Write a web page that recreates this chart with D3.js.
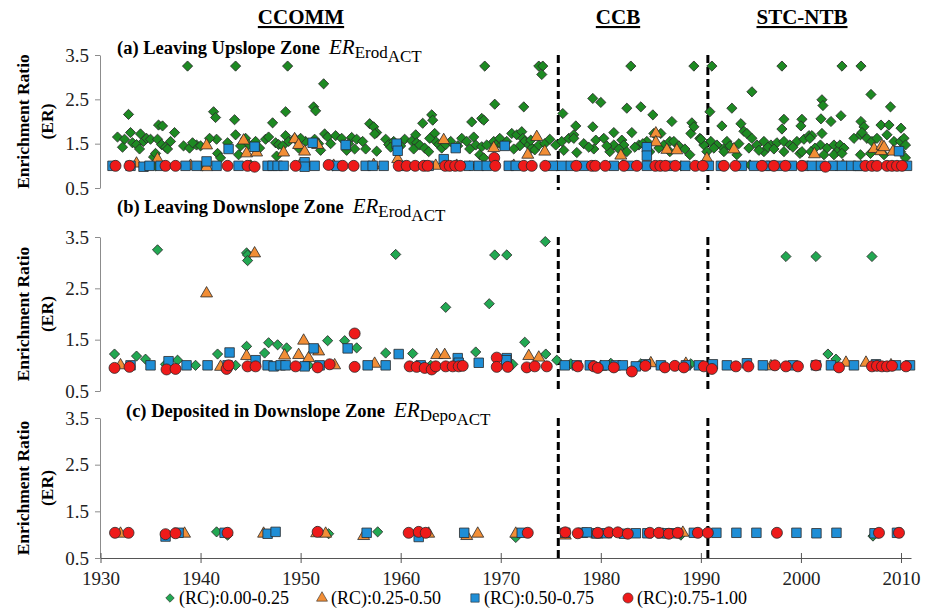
<!DOCTYPE html>
<html lang="en">
<head>
<meta charset="UTF-8">
<title>Enrichment Ratio by RC class</title>
<script src="https://d3js.org/d3.v7.min.js"></script>
<style>
  body { margin: 0; background: #fff; }
  .axis path, .axis line { stroke: #8c8c8c; }
  .xaxis path, .xaxis line { stroke: #555; }
</style>
</head>
<body>
<div id="chart"></div>
<script>
// ---- data: [year, ER] ----
const classes = ["(RC):0.00-0.25", "(RC):0.25-0.50", "(RC):0.50-0.75", "(RC):0.75-1.00"];
const yTicks = [0.5, 1.5, 2.5, 3.5];
const xTicks = [1930, 1940, 1950, 1960, 1970, 1980, 1990, 2000, 2010];
const zoneNames = ["CCOMM", "CCB", "STC-NTB"];
const zoneBreaks = [1975.75, 1990.7];

const upGreen = [[1931.7,1.65],[1932.4,1.6],[1932.8,2.16],[1933.0,1.75],[1933.2,1.52],[1933.6,1.48],[1934.0,1.72],[1934.3,1.55],[1934.6,1.62],[1935.0,1.6],[1935.3,1.2],[1935.5,1.28],[1935.7,1.6],[1935.8,1.92],[1936.2,1.9],[1936.1,1.48],[1936.5,1.42],[1936.7,1.38],[1937.4,1.75],[1938.7,3.25],[1938.3,1.45],[1938.9,1.4],[1939.6,1.47],[1940.0,1.45],[1941.3,2.22],[1941.5,2.09],[1941.6,1.6],[1941.7,1.28],[1942.0,1.18],[1942.7,1.52],[1943.4,2.04],[1943.5,3.25],[1943.5,1.7],[1943.8,1.25],[1944.5,1.62],[1944.8,1.48],[1946.5,1.6],[1946.8,1.65],[1947.2,1.97],[1947.5,1.52],[1947.8,1.48],[1947.6,1.22],[1948.5,2.22],[1948.7,3.25],[1948.5,1.68],[1948.8,1.55],[1948.2,1.45],[1949.4,1.62],[1949.8,1.4],[1951.3,2.33],[1951.5,2.24],[1951.4,1.6],[1951.8,1.5],[1952.3,2.85],[1952.4,1.72],[1952.7,1.65],[1953.5,1.68],[1952.0,1.35],
  [1954.1,1.62],[1955.1,1.64],[1955.6,1.6],[1955.4,1.38],[1956.5,1.38],[1956.9,1.95],[1957.3,1.88],[1957.6,1.75],[1957.4,1.72],[1957.6,1.33],[1958.5,1.6],[1958.8,1.48],[1960.4,1.6],[1961.1,1.56],[1961.5,1.7],[1961.6,1.52],[1961.3,1.38],[1961.9,1.47],[1962.2,1.96],[1962.4,1.4],[1962.8,1.32],[1963.1,2.15],[1963.2,2.03],[1963.4,1.73],[1963.5,1.55],[1963.8,1.48],[1964.1,1.4],[1964.5,1.48],[1966.1,1.62],[1966.6,1.55],[1967.1,1.99],[1967.3,1.65],[1967.5,1.47],[1968.1,2.07],[1968.3,2.03],[1968.1,1.43],[1968.6,1.47],[1967.9,1.25],[1968.3,1.18],[1968.4,3.25],[1969.3,1.55],[1969.4,2.39],[1969.5,1.47],[1970.1,1.47],[1971.1,1.73],[1971.6,1.7],[1972.1,1.77],[1972.3,2.33],[1972.2,1.62],[1972.4,1.55],[1972.8,1.47],[1973.1,1.4],[1973.4,1.36],[1973.8,3.25],[1974.2,3.25],[1974.1,3.06],[1973.8,1.47],[1974.4,1.5],[1975.5,1.47],[1976.1,1.55],[1976.2,2.18],[1976.3,1.35],[1976.8,1.62],[1977.3,1.7],
  [1977.5,1.9],[1977.3,1.62],[1978.3,1.5],[1979.2,2.52],[1979.2,1.88],[1979.5,1.58],[1980.0,2.43],[1980.3,1.62],[1981.3,1.75],[1981.3,1.47],[1982.1,1.58],[1982.3,1.47],[1982.6,2.3],[1983.0,3.25],[1983.1,1.75],[1983.8,1.47],[1984.0,2.33],[1984.6,1.55],[1985.2,2.15],[1985.3,1.73],[1986.0,1.73],[1986.3,1.47],[1986.9,1.55],[1987.1,2.0],[1987.3,1.55],[1989.0,1.73],[1989.1,1.97],[1989.3,1.88],[1989.3,3.25],[1989.9,1.62],[1990.3,1.47],[1990.9,2.22],[1991.0,1.55],[1991.1,3.25],[1991.6,1.47],[1992.1,1.9],[1992.3,1.39],[1992.6,1.55],[1993.1,2.3],[1994.0,1.95],[1994.3,1.78],[1994.6,1.73],[1995.1,2.67],[1995.1,1.62],[1995.6,1.47],[1996.3,1.55],[1997.0,1.47],[1997.6,1.52],[1998.1,3.25],[1998.3,2.05],[1998.1,1.83],[1998.3,1.55],[1998.9,1.47],[1999.6,1.55],[2000.1,2.05],[2000.0,1.9],[2000.3,1.6],[2000.8,1.68],
  [1977.6,1.3],[1979.3,1.38],[1980.9,1.32],[1982.6,1.32],[1984.9,1.32],[1986.9,1.32],[1988.9,1.25],[1990.6,1.32],[1992.3,1.32],[1993.6,1.25],[1996.3,1.32],[1998.3,1.32],[1999.9,1.28],
  [1978.8,1.42],[1980.6,1.45],[1981.8,1.38],[1983.4,1.42],[1984.2,1.5],[1985.8,1.4],[1987.8,1.45],[1988.4,1.38],[1990.0,1.6],[1991.3,1.4],[1992.9,1.45],[1993.8,1.5],[1994.8,1.4],[1995.8,1.35],[1996.7,1.42],[1997.3,1.38],[1999.2,1.42],
  [2001.1,1.68],[2002.1,1.73],[2002.1,2.49],[2002.2,2.36],[2002.0,2.06],[2003.0,2.0],[2004.0,2.13],[2004.1,3.25],[2006.0,3.25],[2007.0,2.61],[2008.95,2.33],[2006.0,2.0],[2006.3,1.88],[2008.0,1.92],[2008.8,1.92],[2010.0,1.85],[2000.9,1.62],[2001.95,1.47],[2001.4,1.4],[2002.6,1.4],[2003.3,1.47],[2003.9,1.47],[2003.6,1.32],[2004.3,1.4],[2005.3,1.62],[2005.95,1.7],[2006.1,1.75],[2006.6,1.62],[2007.1,1.55],[2007.6,1.62],[2008.6,1.7],[2009.3,1.55],[2009.95,1.55],[2010.3,1.62],[2010.45,1.47],[2000.1,1.32],[2001.0,1.32],[2002.3,1.25],[2003.3,1.25],[2004.1,1.28],[2005.95,1.25],[2006.95,1.28],[2008.3,1.25],[2009.95,1.32],[2010.45,1.18],
  [1933.9,1.38],[1937.0,1.55],[1939.2,1.52],[1944.0,1.45],[1945.5,1.55],[1950.5,1.55],[1953.0,1.5],[1954.8,1.5],[1956.2,1.55],[1959.3,1.55],[1960.0,1.45],[1965.0,1.55],[1966.9,1.38],[1970.6,1.55],[1971.9,1.45],[1974.9,1.6],
  [1932.2,1.42],[1940.9,1.62],[1945.9,1.4],[1950.0,1.62],[1954.6,1.35],[1959.0,1.42],[1962.9,1.62],[1965.7,1.45],[1969.9,1.62],[1971.3,1.38],[1973.0,1.58],
  [1935.5,1.0],[1940.2,1.0],[1945.0,1.02],[1953.2,1.0],[1960.0,1.02],[1966.9,1.0],[1975.6,1.0],[1982.2,1.02],[1988.0,1.0],[1994.9,1.02],[2003.5,1.0]];
const upOrange = [[1933.6,1.05],[1935.7,1.15],[1939.0,1.0],[1940.6,1.46],[1940.6,0.97],[1944.3,1.57],[1944.6,1.28],[1945.6,1.3],[1948.3,1.3],[1949.4,1.6],[1949.8,1.47],[1950.4,1.32],[1951.7,1.47],[1953.3,1.0],[1957.3,1.02],[1959.7,1.15],[1963.5,1.0],[1964.3,1.58],[1969.3,1.4],[1972.7,1.25],[1973.6,1.65],[1974.4,1.32],[1982.0,1.23],[1985.5,1.73],[1985.5,1.53],[1986.6,1.36],[1987.6,1.35],[1990.6,1.16],[1993.3,1.37],[2001.35,1.26],[2004.2,1.0],[2006.0,0.97],[2007.3,1.38],[2008.0,1.33],[2008.1,1.45],[2008.3,1.42],[2009.2,1.32],[1949.9,1.0],[1965.6,1.0],[1971.3,1.0]];
const upBlue = [[1931.2,1.0],[1933.0,1.0],[1934.3,0.98],[1936.0,1.0],[1938.5,1.0],[1940.6,1.1],[1942.8,1.38],[1943.8,1.0],[1945.4,1.43],[1946.7,1.0],[1947.2,1.0],[1947.7,1.0],[1948.3,1.0],[1950.4,1.08],[1950.4,0.98],[1951.2,1.52],[1951.4,1.0],[1954.5,1.47],[1956.5,1.0],[1958.3,1.0],[1959.6,1.5],[1959.7,1.34],[1962.8,1.0],[1964.3,1.15],[1965.5,1.4],[1967.8,1.0],[1970.4,1.45],[1970.8,1.0],[1971.5,1.0],[1976.1,1.0],[1978.3,1.0],[1981.3,1.0],[1984.6,1.42],[1984.6,1.23],[1984.6,1.0],[1988.45,1.0],[1990.8,1.0],[1994.1,1.0],[1995.3,1.0],[1997.0,1.0],[1999.1,1.0],[2000.3,1.0],[2001.1,1.0],[2003.2,1.0],[2005.0,1.0],[2009.8,1.33],[2010.6,1.0],
  [1934.9,1.0],[1939.6,1.0],[1941.6,1.0],[1953.6,1.0],[1957.2,1.0],[1960.0,1.0],[1966.8,1.0],[1968.6,1.0],[1975.2,1.0],[1977.0,1.0],[1982.8,1.0],[1986.8,1.0],[1992.0,1.0],[1996.4,1.0],[1998.0,1.0],[2002.0,1.0],[2004.1,1.0],[2005.7,1.0]];
const upRed = [[1931.5,1.0],[1932.9,1.0],[1936.5,1.0],[1937.5,1.0],[1942.7,1.0],[1944.7,1.0],[1945.4,0.98],[1949.5,1.0],[1952.8,1.02],[1954.2,1.0],[1955.3,1.0],[1959.8,1.0],[1960.6,1.0],[1961.45,1.0],[1962.3,1.0],[1962.7,1.0],[1964.45,1.0],[1964.9,1.0],[1965.45,1.0],[1965.95,1.0],[1969.35,1.18],[1969.45,1.0],[1972.3,1.0],[1973.1,1.0],[1974.45,1.0],[1977.55,1.0],[1979.1,1.0],[1979.45,1.0],[1980.45,1.0],[1982.3,1.0],[1983.6,1.0],[1985.45,1.0],[1985.95,1.0],[1986.45,1.0],[1987.45,1.0],[1989.45,1.0],[1990.2,1.0],[1992.3,1.0],[1993.45,1.0],[1996.1,1.0],[1997.3,1.0],[1998.45,1.0],[2000.1,1.0],[2002.45,0.98],[2006.45,1.0],[2007.1,1.0],[2007.6,1.0],[2008.6,1.0],[2009.1,1.0],[2009.6,1.0],[2010.1,1.0]];

const downGreen = [[1931.4,1.22],[1933.6,1.18],[1934.5,1.12],[1935.7,3.25],[1937.7,1.1],[1939.5,1.0],[1941.7,1.22],[1944.6,3.19],[1944.7,3.15],[1944.7,3.04],[1944.6,1.37],[1946.4,1.24],[1946.8,1.44],[1947.7,1.4],[1948.6,1.34],[1952.7,1.48],[1954.4,1.48],[1955.6,1.34],[1958.5,1.24],[1959.5,3.16],[1961.2,1.23],[1964.5,2.13],[1967.5,1.26],[1968.85,2.2],[1969.4,3.15],[1970.6,3.15],[1972.4,1.45],[1974.45,3.41],[1974.5,1.22],[1975.6,1.1],[1977.0,1.03],[1981.0,1.04],[1984.0,1.03],[1989.0,1.03],[1998.5,3.12],[2001.5,3.12],[2002.7,1.22],[2003.5,1.12],[2007.1,3.12],[1936.5,1.02],[1943.5,1.0],[1950.8,1.0],[1963.0,1.0],[1971.2,1.02]];
const downOrange = [[1932.0,1.0],[1940.6,2.4],[1944.6,1.18],[1945.4,3.18],[1948.4,1.19],[1949.8,1.2],[1950.3,1.48],[1950.8,1.14],[1951.8,1.27],[1953.4,1.0],[1957.4,1.03],[1963.6,1.2],[1964.4,1.2],[1972.8,1.18],[1973.8,1.15],[1965.5,0.97],[1942.0,0.97],[1980.0,0.97],[1985.0,1.04],[1988.5,1.03],[1997.0,0.98],[2004.5,1.05],[2006.5,1.05],[2009.0,1.0]];
const downBlue = [[1933.0,1.0],[1935.0,1.0],[1936.8,1.08],[1938.6,1.0],[1940.7,1.0],[1942.9,1.25],[1942.7,1.0],[1945.5,1.1],[1946.7,1.0],[1947.3,0.98],[1948.0,1.0],[1948.5,1.0],[1950.4,0.98],[1951.3,1.33],[1951.9,1.0],[1954.7,1.33],[1956.7,1.0],[1958.5,1.0],[1959.8,1.22],[1962.0,1.0],[1965.7,1.14],[1965.8,1.05],[1967.8,1.05],[1970.6,1.14],[1970.55,1.1],[1976.4,1.0],[1978.9,1.0],[1981.5,1.0],[1983.5,0.98],[1984.5,1.02],[1988.5,1.0],[1991.2,1.02],[1994.6,1.04],[1999.2,1.0],[2001.5,1.0],[2005.3,1.0],[2007.5,1.02],[2010.9,1.0],
  [1977.6,1.0],[1980.4,1.0],[1982.2,1.0],[1986.0,1.0],[1989.8,1.0],[1992.6,1.0],[1996.2,1.0],[2003.0,1.0],[2009.5,1.0]];
const downRed = [[1931.4,0.95],[1932.9,0.97],[1936.6,0.92],[1937.5,0.93],[1942.6,0.93],[1942.8,1.0],[1944.7,0.98],[1945.5,0.98],[1949.5,0.98],[1951.7,0.96],[1952.9,1.02],[1955.4,1.62],[1955.4,0.97],[1960.9,0.98],[1961.6,0.97],[1962.4,0.95],[1963.1,0.92],[1963.5,0.98],[1964.5,0.98],[1965.2,0.98],[1965.8,0.98],[1966.2,0.99],[1969.6,1.15],[1969.6,0.97],[1970.7,0.97],[1972.6,0.96],[1973.4,0.98],[1974.6,0.98],[1977.7,0.98],[1979.3,0.98],[1979.7,0.95],[1981.3,0.96],[1983.1,0.88],[1984.45,0.99],[1986.4,0.96],[1987.4,0.99],[1988.3,0.96],[1990.3,0.98],[1991.1,0.93],[1993.5,0.98],[1994.75,0.98],[1997.4,1.0],[1998.5,0.98],[1999.7,0.98],[2001.5,1.0],[2003.8,0.96],[2007.1,0.98],[2007.6,0.99],[2008.1,0.98],[2008.6,0.98],[2009.1,0.99],[2010.5,0.98]];

const depoGreen = [[1941.6,1.06],[1942.7,0.99],[1952.8,1.02],[1957.7,1.06],[1971.5,0.94],[1988.0,0.99],[2007.2,0.97]];
const depoOrange = [[1932.0,1.02],[1938.4,1.02],[1946.3,1.02],[1951.6,1.03],[1952.5,1.02],[1956.3,0.97],[1962.8,1.02],[1966.6,0.97],[1967.7,1.02],[1971.5,1.02],[1976.45,0.98],[1979.6,1.0],[1986.2,1.0],[1988.2,1.04]];
const depoBlue = [[1936.5,0.96],[1937.8,1.04],[1942.4,1.04],[1946.7,1.02],[1947.5,1.06],[1956.6,1.04],[1961.8,0.95],[1966.35,1.04],[1972.1,1.04],[1976.45,1.04],[1978.2,1.04],[1978.6,1.05],[1979.6,1.03],[1980.6,1.03],[1982.3,1.02],[1983.5,1.03],[1984.65,1.03],[1986.65,1.03],[1987.6,1.03],[1989.3,1.04],[1991.55,1.04],[1993.55,1.04],[1995.55,1.04],[1999.55,1.04],[2001.55,1.03],[2003.55,1.04],[2007.35,1.03],[2009.6,1.04]];
const depoRed = [[1931.45,1.04],[1932.8,1.04],[1936.5,1.01],[1937.5,1.03],[1942.7,1.04],[1951.7,1.06],[1960.8,1.04],[1961.8,1.06],[1962.5,1.04],[1972.7,1.04],[1976.45,1.05],[1977.7,1.03],[1979.7,1.04],[1980.8,1.05],[1981.7,1.05],[1982.7,1.02],[1984.9,1.04],[1985.8,1.04],[1986.8,1.02],[1987.7,1.04],[1989.7,1.04],[1990.7,1.04],[1997.6,1.04],[2007.8,1.04],[2009.8,1.04]];

// ---- layout ----
const W = 929, H = 608;
const FONT = "'Liberation Serif', 'Times New Roman', Times, serif";
const svg = d3.select("#chart").append("svg").attr("width", W).attr("height", H)
  .style("font-family", FONT);

const x = d3.scaleLinear().domain([1930, 2011]).range([100.5, 911]);

const panels = [
  { label: "(a) Leaving Upslope Zone", sub: "Erod", titleX: 117, titleY: 54, top: 55, bottom: 188,
    series: [upGreen, upOrange, upBlue, upRed], green: "#1d8a22" },
  { label: "(b) Leaving Downslope Zone", sub: "Erod", titleX: 117, titleY: 213, top: 237, bottom: 391,
    series: [downGreen, downOrange, downBlue, downRed], green: "#22a852" },
  { label: "(c) Deposited in Downslope Zone", sub: "Depo", titleX: 126, titleY: 417, top: 418, bottom: 558,
    series: [depoGreen, depoOrange, depoBlue, depoRed], green: "#22a852" }
];

const fills = ["#1d8a22", "#f28e36", "#1f8ed6", "#ee1a1a"];
const shapes = [
  d3.symbol().type(d3.symbolSquare).size(52),   // rotated -> diamond
  d3.symbol().type(d3.symbolTriangle).size(62),
  d3.symbol().type(d3.symbolSquare).size(90),
  d3.symbol().type(d3.symbolCircle).size(95)
];
const rot = [45, 0, 0, 0];

// zone headings
const zoneX = [301, 618, 802];
svg.selectAll(".zone").data(zoneNames).join("text")
  .attr("class", "zone")
  .attr("x", (d, i) => zoneX[i]).attr("y", 24)
  .attr("text-anchor", "middle")
  .attr("font-size", 21).attr("font-weight", "bold")
  .attr("text-decoration", "underline")
  .style("font-family", FONT)
  .text(d => d);

panels.forEach((p, pi) => {
  const y = d3.scaleLinear().domain([0.5, 3.5]).range([p.bottom, p.top]);
  const g = svg.append("g");

  // y axis
  const ya = g.append("g").attr("class", "axis")
    .attr("transform", "translate(100,0)")
    .call(d3.axisLeft(y).tickValues(yTicks).tickFormat(d3.format(".1f")).tickSize(5).tickSizeOuter(0).tickPadding(6));
  ya.selectAll("text").attr("font-size", 19).attr("fill", "#222").style("font-family", FONT);

  // y title
  const cy = (p.top + p.bottom) / 2;
  g.append("text").attr("font-size", 17.5).attr("font-weight", "bold")
    .attr("transform", `translate(29,${cy}) rotate(-90)`)
    .attr("text-anchor", "middle").text("Enrichment Ratio");
  g.append("text").attr("font-size", 17.5).attr("font-weight", "bold")
    .attr("transform", `translate(53,${cy}) rotate(-90)`)
    .attr("text-anchor", "middle").text("(ER)");

  // panel title, then ER symbol just after it
  const title = g.append("text").attr("font-size", 18.5).attr("font-weight", "bold")
    .style("font-family", FONT)
    .attr("x", p.titleX).attr("y", p.titleY).text(p.label);
  const erX = p.titleX + title.node().getComputedTextLength() + 9;
  const t = g.append("text").attr("x", erX).attr("y", p.titleY);
  t.append("tspan").attr("font-style", "italic").attr("font-size", 21).text("ER");
  t.append("tspan").attr("font-size", 17).attr("dy", 4).text(p.sub);
  t.append("tspan").attr("font-size", 17).attr("dy", 4).text("ACT");

  // zone break lines
  g.selectAll(".brk").data(zoneBreaks).join("line")
    .attr("x1", d => x(d)).attr("x2", d => x(d))
    .attr("y1", p.top).attr("y2", p.bottom + 2)
    .attr("stroke", "#000").attr("stroke-width", 3).attr("stroke-dasharray", "8,4");

  // points
  p.series.forEach((s, si) => {
    const fill = si === 0 ? p.green : fills[si];
    g.append("g").selectAll("path").data(s).join("path")
      .attr("d", shapes[si])
      .attr("transform", d => `translate(${x(d[0])},${y(d[1])}) rotate(${rot[si]})`)
      .attr("fill", fill)
      .attr("stroke", "#2a2a2a").attr("stroke-width", 0.8);
  });

  if (pi === 2) {
    const xa = g.append("g").attr("class", "axis xaxis")
      .attr("transform", `translate(0,${p.bottom})`)
      .call(d3.axisBottom(x).tickValues(xTicks).tickFormat(d3.format("d")).tickSize(5).tickSizeOuter(0).tickPadding(9));
    xa.selectAll(".tick line").attr("y1", -5).attr("y2", 5);
    xa.selectAll("text").attr("font-size", 19).attr("fill", "#222").style("font-family", FONT);
  }
});

// legend
const legX = [170, 322, 475, 628];
const leg = svg.append("g").selectAll("g").data(classes).join("g")
  .attr("transform", (d, i) => `translate(${legX[i]},598)`);
leg.append("path")
  .attr("d", (d, i) => d3.symbol().type(i === 0 || i === 2 ? d3.symbolSquare : (i === 1 ? d3.symbolTriangle : d3.symbolCircle))
    .size([36, 52, 70, 80][i])())
  .attr("transform", (d, i) => `rotate(${rot[i]})`)
  .attr("fill", (d, i) => i === 0 ? "#22a852" : fills[i])
  .attr("stroke", "#2a2a2a").attr("stroke-width", 0.6);
leg.append("text")
  .attr("x", 9).attr("y", 6)
  .attr("font-size", 18)
  .text(d => d);

// one serif face for every label
svg.selectAll("text").style("font-family", FONT);
</script>
</body>
</html>
